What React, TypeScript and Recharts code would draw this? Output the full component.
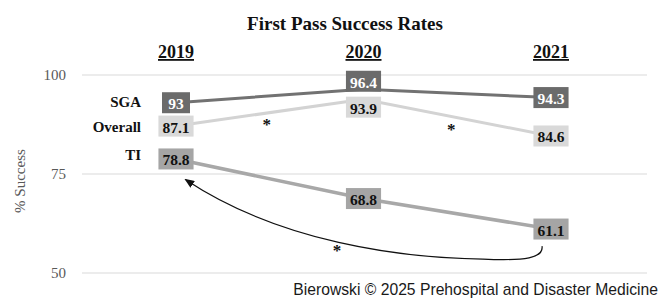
// @ts-nocheck
import React from "react";
import { LineChart, Line, XAxis, YAxis, CartesianGrid, LabelList, Customized } from "recharts";

const years = ["2019", "2020", "2021"];
const sgaRates = [93, 96.4, 94.3];
const overallRates = [87.1, 93.9, 84.6];
const tiRates = [78.8, 68.8, 61.1];
const yTicks = [50, 75, 100];

const data = years.map((year, i) => ({
  year,
  sga: sgaRates[i],
  overall: overallRates[i],
  ti: tiRates[i],
}));

const W = 662;
const H = 299;
const margin = { top: 45, right: 15, bottom: 26, left: 0 };
const yAxisW = 82;
const xAxisH = 30;
const padL = 94;
const padR = 96;
const serif = "'Liberation Serif', 'Times New Roman', serif";

// same mapping as the chart, for the annotations
const plotTop = margin.top + xAxisH;
const plotBottom = H - margin.bottom;
const plotLeft = margin.left + yAxisW + padL;
const plotRight = W - margin.right - padR;
const xAt = (i: number) => plotLeft + ((plotRight - plotLeft) * i) / (years.length - 1);
const yAt = (v: number) => plotTop + ((100 - v) * (plotBottom - plotTop)) / 50;

const textW = (s: string, size: number) =>
  s.split("").reduce((w, c) => w + (c === "." ? 0.25 : 0.5), 0) * size;

function makeLabel(name: string, fill: string, color: string, dys: number[], nameDy: number) {
  return (props: any) => {
    const { x, y, value, index } = props;
    const txt = String(value);
    const w = Math.max(textW(txt, 15.5) + 8, 28);
    const h = 21;
    const cy = y + (dys[index] || 0);
    return (
      <g>
        <rect x={x - w / 2} y={cy - h / 2} width={w} height={h} fill={fill} />
        <text
          x={x}
          y={cy + 1}
          textAnchor="middle"
          dominantBaseline="central"
          fontFamily={serif}
          fontWeight="bold"
          fontSize={15.5}
          fill={color}
        >
          {txt}
        </text>
        {index === 0 && (
          <text
            x={x - 35}
            y={cy + nameDy}
            textAnchor="end"
            dominantBaseline="central"
            fontFamily={serif}
            fontWeight="bold"
            fontSize={15}
            fill="#111"
          >
            {name}
          </text>
        )}
      </g>
    );
  };
}

function YearTick(props: any) {
  const { x, y, payload } = props;
  return (
    <text
      x={x}
      y={y}
      textAnchor="middle"
      fontFamily={serif}
      fontWeight="bold"
      fontSize={18}
      fill="#111"
      textDecoration="underline"
      style={{ textDecoration: "underline" }}
    >
      {payload.value}
    </text>
  );
}

function Annotations() {
  const sx = xAt(2) - 9;
  const sy = yAt(tiRates[2]) + 17;
  const ex = xAt(0) + 10;
  const ey = yAt(tiRates[0]) + 21;
  const star = { fontFamily: serif, fontWeight: "bold", fontSize: 17, fill: "#111", textAnchor: "middle" };
  return (
    <g>
      <defs>
        <marker id="arr" markerWidth="10" markerHeight="8" refX="8" refY="4" orient="auto" markerUnits="userSpaceOnUse">
          <path d="M0,0 L10,4 L0,8 Z" fill="#111" />
        </marker>
      </defs>
      <text x={345} y={30} textAnchor="middle" fontFamily={serif} fontWeight="bold" fontSize={19} fill="#111">
        First Pass Success Rates
      </text>
      <text
        x={20}
        y={(plotTop + plotBottom) / 2 + 7}
        transform={`rotate(-90, 20, ${(plotTop + plotBottom) / 2 + 7})`}
        textAnchor="middle"
        dominantBaseline="central"
        fontFamily={serif}
        fontSize={15}
        fill="#595959"
      >
        % Success
      </text>
      <path
        d={`M ${sx} ${sy} C ${sx + 2} ${sy + 12}, ${sx - 17} ${sy + 15}, ${sx - 59} ${sy + 13} C ${sx - 142} ${sy + 12}, ${sx - 262} ${sy - 4}, ${ex} ${ey}`}
        fill="none"
        stroke="#111"
        strokeWidth={1.2}
        markerEnd="url(#arr)"
      />
      <text {...star} x={(xAt(0) + xAt(1)) / 2 - 3} y={130}>*</text>
      <text {...star} x={(xAt(1) + xAt(2)) / 2 - 6} y={135}>*</text>
      <text {...star} x={337} y={256}>*</text>
      <text x={658} y={295} textAnchor="end" fontFamily="'Liberation Sans', Arial, sans-serif" fontSize={15.7} fill="#1a1a1a">
        Bierowski © 2025 Prehospital and Disaster Medicine
      </text>
    </g>
  );
}

export default function App() {
  return (
    <div style={{ position: "absolute", left: 0, top: 0, width: W, height: H, background: "#fff" }}>
      <LineChart width={W} height={H} data={data} margin={margin}>
        <CartesianGrid vertical={false} stroke="#d9d9d9" strokeWidth={1} />
        <XAxis
          dataKey="year"
          orientation="top"
          height={xAxisH}
          axisLine={false}
          tickLine={false}
          tickSize={0}
          tickMargin={17}
          padding={{ left: padL, right: padR }}
          tick={<YearTick />}
        />
        <YAxis
          domain={[50, 100]}
          ticks={yTicks}
          width={yAxisW}
          axisLine={false}
          tickLine={false}
          tickSize={0}
          tickMargin={16}
          tick={{ fontFamily: serif, fontSize: 15, fill: "#595959" }}
        />
        <Line dataKey="ti" stroke="#a8a8a8" strokeWidth={3.5} dot={false} isAnimationActive={false}>
          <LabelList dataKey="ti" content={makeLabel("TI", "#a5a5a5", "#111", [0, 0, 0], -4)} />
        </Line>
        <Line dataKey="overall" stroke="#d3d3d3" strokeWidth={3} dot={false} isAnimationActive={false}>
          <LabelList dataKey="overall" content={makeLabel("Overall", "#d9d9d9", "#111", [0, 8, 0], 1)} />
        </Line>
        <Line dataKey="sga" stroke="#727272" strokeWidth={3} dot={false} isAnimationActive={false}>
          <LabelList dataKey="sga" content={makeLabel("SGA", "#6b6b6b", "#fff", [0, -8, 0], -1)} />
        </Line>
        <Customized component={<Annotations />} />
      </LineChart>
    </div>
  );
}
